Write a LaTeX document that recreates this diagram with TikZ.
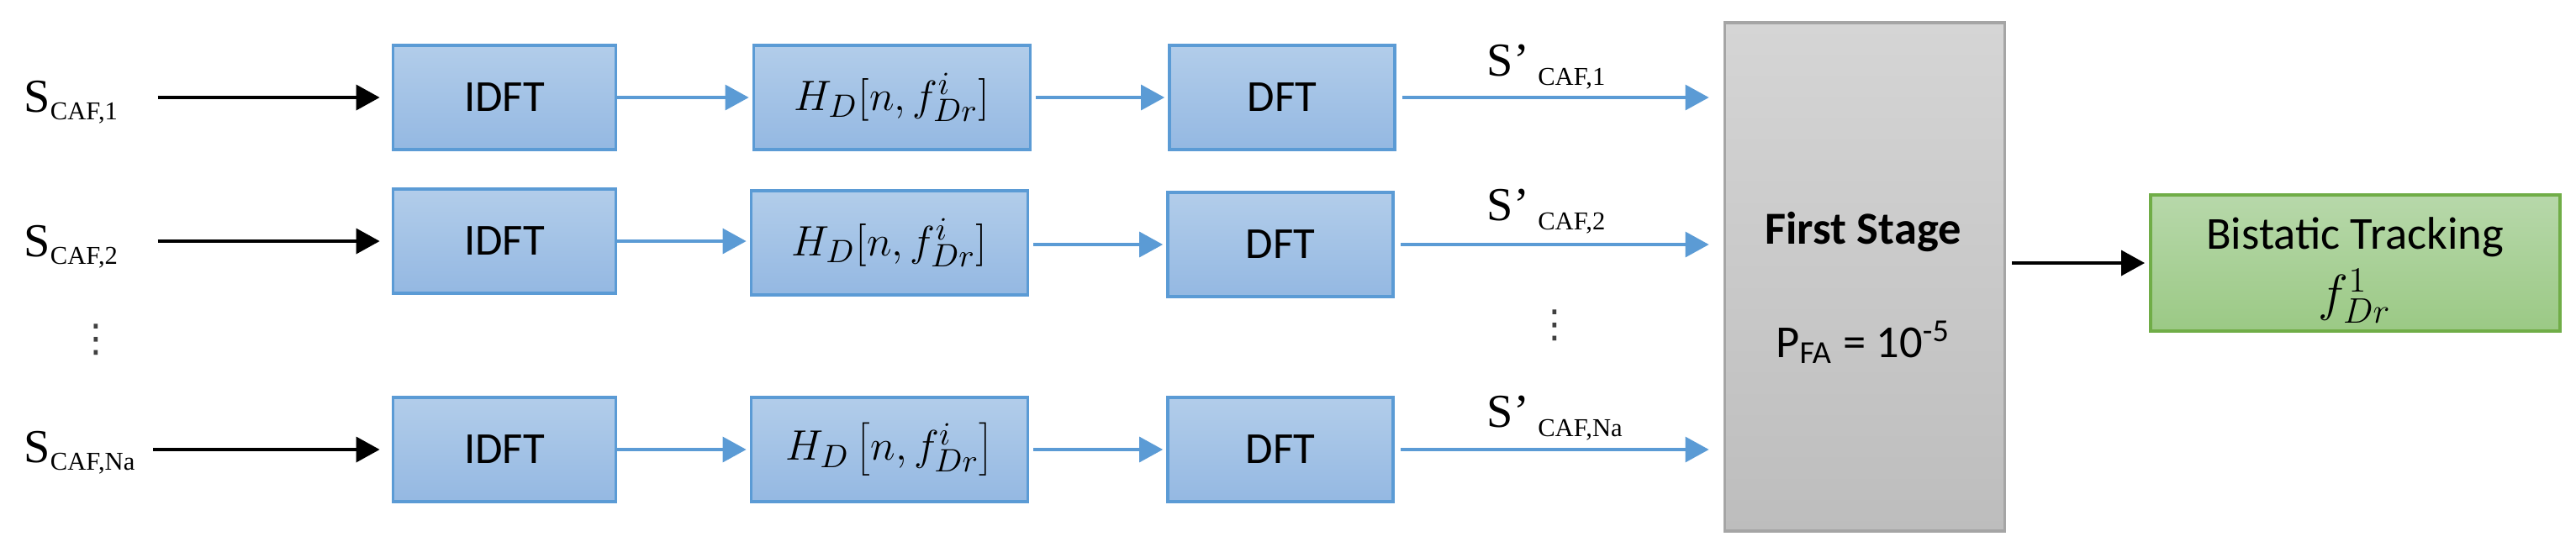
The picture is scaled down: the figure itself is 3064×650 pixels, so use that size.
\documentclass[tikz,border=0pt]{standalone}
\usepackage{fontspec}
\setmainfont{Carlito}
\newfontfamily\tnr{Liberation Serif}
\newfontfamily\dv{DejaVu Sans}
\usetikzlibrary{arrows.meta}
\definecolor{bbord}{HTML}{5B9BD5}
\definecolor{btop}{HTML}{B2CDEA}
\definecolor{bbot}{HTML}{94B8E2}
\definecolor{gtop}{HTML}{D5D5D5}
\definecolor{gbot}{HTML}{BDBDBD}
\definecolor{gbord}{HTML}{A5A5A5}
\definecolor{ntop}{HTML}{B7D8AA}
\definecolor{nbot}{HTML}{9BC985}
\definecolor{nbord}{HTML}{70AD47}
\definecolor{dotc}{HTML}{404040}
\begin{document}
\begin{tikzpicture}[x=0.01cm,y=-0.01cm,
  blk/.style={draw=bbord, line width=1pt, top color=btop, bottom color=bbot,
    minimum height=1.24cm, inner sep=0pt, font=\fontsize{15}{18}\selectfont},
  gbox/.style={draw=gbord, line width=1pt, top color=gtop, bottom color=gbot, inner sep=0pt},
  nbox/.style={draw=nbord, line width=1pt, top color=ntop, bottom color=nbot, inner sep=0pt},
  txt/.style={inner sep=0pt, font=\fontsize{15.5}{18}\selectfont},
  lbl/.style={inner sep=0pt, font=\tnr\fontsize{16}{19}\selectfont},
  vdt/.style={inner sep=0pt, text=dotc, font=\dv\fontsize{13}{14}\selectfont},
  barrow/.style={draw=bbord, line width=1.1pt, -{Triangle[length=8pt,width=8.5pt]}},
  karrow/.style={draw=black, line width=1.2pt, -{Triangle[length=8pt,width=8.5pt]}}]
\useasboundingbox (0,0) rectangle (3064,650);

% row boxes
\node[blk, minimum width=2.65cm] (i1) at (600,116) {IDFT};
\node[blk, minimum width=3.29cm] (h1) at (1061,116) {$H_D[n, f^{i}_{Dr}]$};
\node[blk, minimum width=2.68cm] (d1) at (1525,116) {DFT};
\node[blk, minimum width=2.65cm] (i2) at (600,287) {IDFT};
\node[blk, minimum width=3.29cm] (h2) at (1058,289) {$H_D[n, f^{i}_{Dr}]$};
\node[blk, minimum width=2.68cm] (d2) at (1523,291) {DFT};
\node[blk, minimum width=2.65cm] (i3) at (600,535) {IDFT};
\node[blk, minimum width=3.29cm] (h3) at (1058,535) {$H_D\left[n, f^{i}_{Dr}\right]$};
\node[blk, minimum width=2.68cm] (d3) at (1523,535) {DFT};

% first stage
\node[gbox, minimum width=3.33cm, minimum height=6.05cm] (fs) at (2218,329.5) {};
\node[txt, anchor=base, font=\fontsize{15.5}{18}\selectfont\bfseries] (fst) at (2216,290) {First Stage};
\node[txt, anchor=base] (pfa) at (2216,425) {P\textsubscript{FA} = 10\textsuperscript{-5}};

% bistatic tracking
\node[nbox, minimum width=4.87cm, minimum height=1.62cm] (bt) at (2801.5,313) {};
\node[txt, anchor=base] (btt) at (2801,296) {Bistatic Tracking};
\node[txt, font=\fontsize{17}{18}\selectfont] (btf) at (2801,352) {$f^{1}_{Dr}$};

% input labels
\node[lbl, anchor=base west] (s1) at (28,133) {S\raisebox{-2.8pt}{\fontsize{8.7}{10}\selectfont CAF,1}};
\node[lbl, anchor=base west] (s2) at (28,305) {S\raisebox{-2.8pt}{\fontsize{8.7}{10}\selectfont CAF,2}};
\node[lbl, anchor=base west] (s3) at (28,550) {S\raisebox{-2.8pt}{\fontsize{8.7}{10}\selectfont CAF,Na}};
\node[vdt] (v1) at (114,404) {⋮};

% output labels
\node[lbl, anchor=base west] (o1) at (1768,90) {S’\hspace{3pt}\raisebox{-3.4pt}{\fontsize{8.7}{10}\selectfont CAF,1}};
\node[lbl, anchor=base west] (o2) at (1768,262) {S’\hspace{3pt}\raisebox{-3.4pt}{\fontsize{8.7}{10}\selectfont CAF,2}};
\node[lbl, anchor=base west] (o3) at (1768,508) {S’\hspace{3pt}\raisebox{-3.4pt}{\fontsize{8.7}{10}\selectfont CAF,Na}};
\node[vdt] (v2) at (1849,387) {⋮};

% black input arrows
\draw[karrow, shorten <=0.47cm, shorten >=0.14cm] (s1.east |- i1.west) -- (i1.west);
\draw[karrow, shorten <=0.47cm, shorten >=0.14cm] (s2.east |- i2.west) -- (i2.west);
\draw[karrow, shorten <=0.21cm, shorten >=0.14cm] (s3.east |- i3.west) -- (i3.west);

% blue arrows
\foreach \r in {1,2,3}{
  \draw[barrow, shorten >=0.04cm] (i\r.east) -- (i\r.east -| h\r.west);
  \draw[barrow, shorten <=0.05cm, shorten >=0.04cm] (h\r.east |- d\r.west) -- (d\r.west);
  \draw[barrow, shorten <=0.07cm, shorten >=0.17cm] (d\r.east) -- (d\r.east -| fs.west);
}

% output arrow
\draw[karrow, shorten <=0.07cm, shorten >=0.05cm] (bt.west -| fs.east) -- (bt.west);
\end{tikzpicture}
\end{document}
